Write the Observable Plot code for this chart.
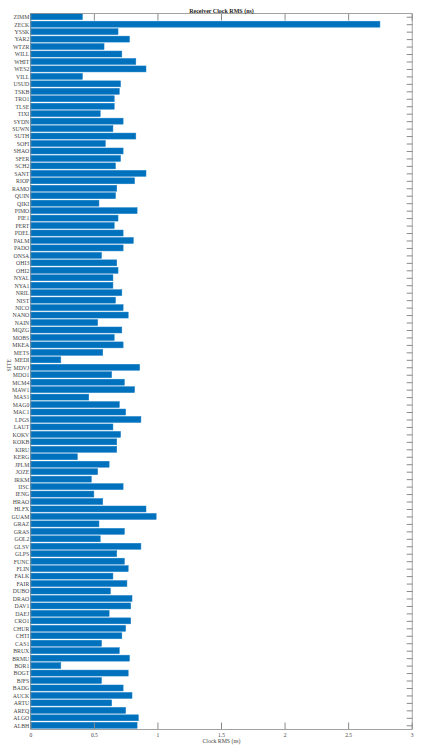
<!DOCTYPE html>
<html>
<head>
<meta charset="utf-8">
<script src="https://cdn.jsdelivr.net/npm/d3@7"></script>
<script src="https://cdn.jsdelivr.net/npm/@observablehq/plot@0.6"></script>
<style>
  html, body { margin: 0; padding: 0; background: #fff; }
  svg { font-family: "Liberation Serif", "DejaVu Serif", serif; }
</style>
</head>
<body>
<div id="chart"></div>
<script>
const sites = ["ZIMM","ZECK","YSSK","YAR2","WTZR","WILL","WHIT","WES2","VILL","USUD","TSKB","TRO1","TLSE","TIXI","SYDN","SUWN","SUTH","SOFI","SHAO","SFER","SCH2","SANT","RIOP","RAMO","QUIN","QIKI","PIMO","PIE1","PERT","PDEL","PALM","PADO","ONSA","OHI3","OHI2","NYAL","NYA1","NRIL","NIST","NICO","NANO","NAIN","MQZG","MOBS","MKEA","METS","MEDI","MDVJ","MDO1","MCM4","MAW1","MAS1","MAG0","MAC1","LPGS","LAUT","KOKV","KOKB","KIRU","KERG","JPLM","JOZE","IRKM","IISC","IENG","HRAO","HLFX","GUAM","GRAZ","GRAS","GOL2","GLSV","GLPS","FUNC","FLIN","FALK","FAIR","DUBO","DRAO","DAV1","DAEJ","CRO1","CHUR","CHTI","CAS1","BRUX","BRMU","BOR1","BOGT","BJFS","BADG","AUCK","ARTU","AREQ","ALGO","ALBH"];
const rms = [0.41,2.75,0.69,0.78,0.58,0.72,0.83,0.91,0.41,0.71,0.70,0.66,0.66,0.55,0.73,0.65,0.83,0.59,0.73,0.71,0.67,0.91,0.82,0.68,0.67,0.54,0.84,0.69,0.66,0.73,0.81,0.73,0.56,0.68,0.69,0.65,0.65,0.72,0.67,0.73,0.77,0.53,0.72,0.66,0.73,0.57,0.24,0.86,0.64,0.74,0.82,0.46,0.70,0.75,0.87,0.65,0.71,0.68,0.68,0.37,0.62,0.53,0.48,0.73,0.50,0.57,0.91,0.99,0.54,0.74,0.55,0.87,0.68,0.74,0.77,0.65,0.76,0.63,0.80,0.79,0.62,0.79,0.75,0.72,0.56,0.70,0.78,0.24,0.77,0.56,0.73,0.80,0.64,0.75,0.85,0.84];
const xTicks = [0, 0.5, 1, 1.5, 2, 2.5, 3];
const titleText = "Receiver Clock RMS (ns)";
const xLabel = "Clock RMS (ns)";
const yLabel = "SITE";

const data = sites.map((s, i) => ({site: s, value: rms[i]}));
const axisColor = "#8a8a8a";
const textColor = "#444";

const chart = Plot.plot({
  width: 425,
  height: 754,
  marginTop: 13,
  marginBottom: 25,
  marginLeft: 30.3,
  marginRight: 13.3,
  style: {fontFamily: "Liberation Serif, serif", background: "#fff"},
  x: {domain: [0, 3]},
  y: {domain: sites, paddingInner: 0.2, paddingOuter: 0.1},
  marks: [
    Plot.axisX({anchor: "top", ticks: xTicks, tickSize: -6.5, tickFormat: () => "", label: null, stroke: axisColor}),
    Plot.axisY({anchor: "right", tickSize: -6, tickFormat: () => "", label: null, stroke: axisColor}),
    Plot.barX(data, {x: "value", y: "site", fill: "#0072BD", stroke: "#1a7fc6", strokeWidth: 0.5}),
    Plot.axisX({anchor: "bottom", ticks: xTicks, tickSize: -6.5, tickPadding: 10, tickFormat: d => String(d), label: null, stroke: axisColor, fill: textColor, fontSize: 5.5}),
    Plot.axisY({anchor: "left", tickSize: 0, tickPadding: 1.5, label: null, fill: textColor, fontSize: 5.8}),
    Plot.frame({stroke: axisColor, strokeWidth: 0.8}),
    Plot.text([titleText], {frameAnchor: "top", dy: -4.5, fontWeight: "bold", fontSize: 6, fill: "#222"}),
    Plot.text([xLabel], {frameAnchor: "bottom", dy: 13, fontSize: 5.8, fill: textColor}),
    Plot.text([yLabel], {frameAnchor: "left", dx: -22, rotate: -90, fontSize: 5.8, fill: textColor})
  ]
});
document.getElementById("chart").appendChild(chart);
</script>
</body>
</html>
